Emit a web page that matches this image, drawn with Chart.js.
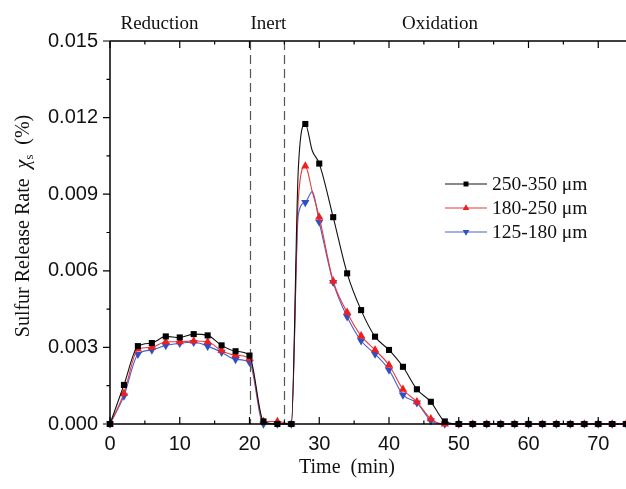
<!DOCTYPE html>
<html>
<head>
<meta charset="utf-8">
<script src="https://cdn.jsdelivr.net/npm/chart.js@4.4.1/dist/chart.umd.min.js"></script>
<style>
  html, body { margin: 0; padding: 0; background: #fff; overflow: hidden; width: 626px; height: 489px; }
  #wrap { position: absolute; left: 0; top: 0; width: 720px; height: 489px; }
</style>
</head>
<body>
<div id="wrap"><canvas id="c" width="690" height="489"></canvas></div>
<script>
// ---- data ----
const timeMin = [0,2,4,6,8,10,12,14,16,18,20,22,24,26,27,28,29,30,32,34,36,38,40,42,44,46,48,50,52,54,56,58,60,62,64,66,68,70,72,74];
const rate250_350 = [0,0.00153,0.00305,0.00317,0.00343,0.00339,0.00352,0.00347,0.00308,0.00285,0.00268,0.0001,0,0,0.0100,0.01175,0.0107,0.0102,0.0081,0.0059,0.00446,0.00342,0.0029,0.00224,0.00136,0.00087,0.0001,0,0,0,0,0,0,0,0,0,0,0,0,0];
const rate180_250 = [0,0.0012,0.00293,0.0030,0.00322,0.00322,0.00325,0.00322,0.00287,0.0027,0.00256,0.0001,0.0001,0,0.0088,0.0101,0.0091,0.0081,0.0056,0.00437,0.00345,0.0029,0.00231,0.00136,0.00087,0.0002,0,0,0,0,0,0,0,0,0,0,0,0,0,0];
const rate125_180 = [0,0.0011,0.00273,0.0029,0.00308,0.00316,0.0032,0.00305,0.00281,0.00253,0.00242,0,0,0,0.0082,0.00868,0.0091,0.00791,0.00555,0.0042,0.00326,0.00274,0.00212,0.00114,0.00083,0.00013,0,0,0,0,0,0,0,0,0,0,0,0,0,0];
const seriesLabels = ['250-350 \u03bcm', '180-250 \u03bcm', '125-180 \u03bcm'];
const stageLabels = ['Reduction', 'Inert', 'Oxidation'];
const stageLabelTime = [7.1, 22.7, 47.3];
const stageBoundaries = [20, 25];
const yTicks = [0, 0.003, 0.006, 0.009, 0.012, 0.015];
const xTicks = [0, 10, 20, 30, 40, 50, 60, 70];

const colors = ['#000000', '#f01e1e', '#2f4fc2'];
const lineColors = ['#111111', '#e8383a', '#4a5fd0'];
const styles = ['rect', 'triangle', 'triangle'];
const rotations = [0, 0, 180];
const radii = [4.3, 4.8, 4.8];
const allSeries = [rate250_350, rate180_250, rate125_180];

function pts(arr) { return timeMin.map((t, i) => ({ x: t, y: arr[i] })); }

const datasets = allSeries.map((arr, k) => ({
  label: seriesLabels[k],
  data: pts(arr),
  borderColor: lineColors[k],
  backgroundColor: colors[k],
  pointBackgroundColor: colors[k],
  pointBorderColor: colors[k],
  pointBorderWidth: 0,
  borderWidth: 1.1,
  pointStyle: styles[k],
  pointRotation: rotations[k],
  pointRadius: (ctx) => (timeMin[ctx.dataIndex] % 2 ? 0 : radii[k]),
  pointHoverRadius: 0,
  cubicInterpolationMode: 'monotone',
  fill: false,
  clip: false
}));

const serif = '"Liberation Serif", "Times New Roman", serif';
const sans = '"Liberation Sans", Arial, sans-serif';

const framePlugin = {
  id: 'frame',
  beforeDatasetsDraw(chart) {
    const { ctx, chartArea: a, scales: { x } } = chart;
    ctx.save();
    ctx.strokeStyle = '#555';
    ctx.lineWidth = 1.2;
    ctx.setLineDash([9, 5]);
    stageBoundaries.forEach(t => {
      const px = Math.round(x.getPixelForValue(t)) + 0.5;
      ctx.beginPath(); ctx.moveTo(px, a.top); ctx.lineTo(px, a.bottom); ctx.stroke();
    });
    ctx.restore();
  },
  afterDraw(chart) {
    const { ctx, chartArea: a, scales: { x, y } } = chart;
    ctx.save();
    ctx.strokeStyle = '#000';
    ctx.lineWidth = 1.5;
    ctx.beginPath();
    ctx.moveTo(a.left, a.top); ctx.lineTo(a.right, a.top);
    ctx.moveTo(a.left, a.bottom); ctx.lineTo(a.right, a.bottom);
    ctx.moveTo(a.left, a.top); ctx.lineTo(a.left, a.bottom + 3);
    ctx.moveTo(a.right, a.top); ctx.lineTo(a.right, a.bottom);
    ctx.stroke();
    ctx.lineWidth = 1.2;
    for (let t = 0; t <= 80; t += 5) {
      const px = x.getPixelForValue(t);
      const major = t % 10 === 0;
      const len = major ? 7 : 3.5;
      ctx.beginPath();
      ctx.moveTo(px, a.bottom); ctx.lineTo(px, a.bottom - len);
      ctx.moveTo(px, a.top); ctx.lineTo(px, a.top + len);
      ctx.stroke();
    }
    for (let v = 0; v <= 0.0150001; v += 0.0015) {
      const py = y.getPixelForValue(v);
      const major = Math.round(v / 0.0015) % 2 === 0;
      const len = major ? 7 : 3.5;
      ctx.beginPath();
      ctx.moveTo(a.left, py); ctx.lineTo(a.left - len, py);
      ctx.moveTo(a.right, py); ctx.lineTo(a.right + len, py);
      ctx.stroke();
    }
    ctx.fillStyle = '#111';
    ctx.font = '19px ' + serif;
    ctx.textAlign = 'center';
    ctx.textBaseline = 'alphabetic';
    stageLabels.forEach((s, i) => {
      ctx.fillText(s, x.getPixelForValue(stageLabelTime[i]), 29);
    });
    ctx.font = '20px ' + serif;
    ctx.fillText('Time  (min)', 347, 473);
    ctx.save();
    ctx.translate(29, 226);
    ctx.rotate(-Math.PI / 2);
    const fs = 20;
    const p1 = 'Sulfur Release Rate  ';
    const p3 = '  (%)';
    ctx.font = fs + 'px ' + serif;
    const w1 = ctx.measureText(p1).width;
    const w3 = ctx.measureText(p3).width;
    ctx.font = 'italic ' + fs + 'px ' + serif;
    const w2 = ctx.measureText('\u03c7').width;
    ctx.font = '12.5px ' + serif;
    const ws = ctx.measureText('s').width;
    const total = w1 + w2 + ws + w3;
    let cx = -total / 2;
    ctx.textAlign = 'left';
    ctx.font = fs + 'px ' + serif;
    ctx.fillText(p1, cx, 0); cx += w1;
    ctx.font = 'italic ' + fs + 'px ' + serif;
    ctx.fillText('\u03c7', cx, 0); cx += w2;
    ctx.font = '12.5px ' + serif;
    ctx.fillText('s', cx, 4); cx += ws;
    ctx.font = fs + 'px ' + serif;
    ctx.fillText(p3, cx, 0);
    ctx.restore();
    const rows = [184, 208, 232];
    ctx.textAlign = 'left';
    ctx.textBaseline = 'middle';
    ctx.font = '19.5px ' + serif;
    rows.forEach((ry, k) => {
      ctx.strokeStyle = lineColors[k];
      ctx.lineWidth = 1.1;
      ctx.beginPath(); ctx.moveTo(445, ry); ctx.lineTo(487, ry); ctx.stroke();
      ctx.fillStyle = colors[k];
      Chart.helpers.drawPoint(ctx, { pointStyle: styles[k], radius: k === 0 ? 3.5 : 3.8, rotation: rotations[k], borderWidth: 0 }, 466, ry);
      ctx.fillStyle = '#111';
      ctx.fillText(seriesLabels[k], 492, ry + 1);
    });
    ctx.restore();
  }
};

const chart = new Chart(document.getElementById('c'), {
  type: 'line',
  data: { datasets },
  options: {
    responsive: false,
    maintainAspectRatio: false,
    animation: false,
    devicePixelRatio: 1,
    layout: { padding: { left: 0, right: 0, top: 41, bottom: 0 } },
    plugins: { legend: { display: false }, tooltip: { enabled: false } },
    scales: {
      x: {
        type: 'linear', min: 0, max: 80,
        afterFit(s) { s.height = 65; },
        grid: { display: false, drawTicks: false },
        border: { display: false },
        ticks: {
          stepSize: 10, includeBounds: false, padding: 8,
          color: '#111', font: { family: sans, size: 20 },
          callback: (v) => (xTicks.includes(v) ? String(v) : '')
        }
      },
      y: {
        type: 'linear', min: 0, max: 0.015,
        afterFit(s) { s.width = 110; },
        grid: { display: false, drawTicks: false },
        border: { display: false },
        ticks: {
          stepSize: 0.003, padding: 12,
          color: '#111', font: { family: sans, size: 20 },
          callback: (v) => {
            const m = yTicks.find(t => Math.abs(t - v) < 1e-9);
            return m === undefined ? '' : m.toFixed(3);
          }
        }
      }
    }
  },
  plugins: [framePlugin]
});
// size the canvas so the 0–70 min span covers the same width as the reference (70 min at x≈598)
for (let i = 0; i < 2; i++) {
  const px70 = chart.scales.x.getPixelForValue(70);
  const extra = (598 - px70) / 70 * 80;
  if (Math.abs(extra) > 0.5) {
    chart.resize(Math.round(chart.width + extra), 489);
  }
}
</script>
</body>
</html>
